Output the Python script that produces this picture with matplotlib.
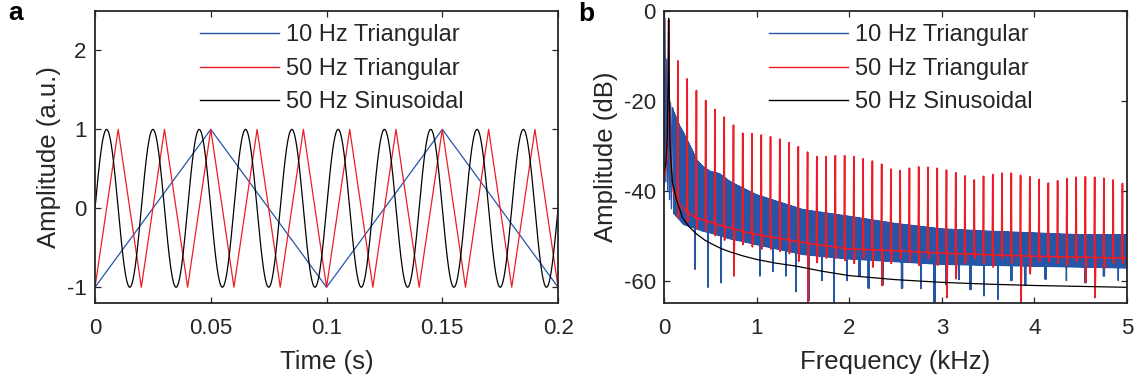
import numpy as np
import matplotlib
matplotlib.use("Agg")
import matplotlib.pyplot as plt

plt.rcParams['font.family'] = ['Liberation Sans', 'DejaVu Sans']
plt.rcParams['axes.unicode_minus'] = False

# ---- panel a: time domain (vertices) ----
tri10_t = [0, 0.05, 0.1, 0.15, 0.2]
tri10_v = [-1, 1, -1, 1, -1]
tri50_t = [0, 0.01, 0.02, 0.03, 0.04, 0.05, 0.06, 0.07, 0.08, 0.09, 0.10,
           0.11, 0.12, 0.13, 0.14, 0.15, 0.16, 0.17, 0.18, 0.19, 0.20]
tri50_v = [-1, 1, -1, 1, -1, 1, -1, 1, -1, 1, -1,
           1, -1, 1, -1, 1, -1, 1, -1, 1, -1]
sin_freq = 50      # Hz
sin_amp = 1.0

# ---- panel b: spectrum (kHz, dB) ----
# 50 Hz triangular: odd harmonics 150 ... 4950 Hz
red_harm_f = [0.15 + 0.1 * k for k in range(49)]
red_peak = [-11.1, -15.1, -17.7, -19.9, -21.9, -23.6, -25.4, -27.2, -27.3, -27.6,
            -28.0, -28.5, -29.3, -30.2, -31.4, -32.4, -32.4, -32.2, -32.2, -32.4,
            -32.9, -33.4, -34.1, -35.2, -35.5, -35.0, -34.7, -34.8, -35.0, -35.4,
            -36.0, -36.7, -37.6, -36.8, -36.4, -36.1, -36.1, -36.6, -36.9, -37.5,
            -38.3, -37.8, -37.3, -37.0, -36.9, -37.0, -37.2, -37.6, -38.4]
red_dip = [-46, -47, -48.5, -49, -50, -51, -59, -52, -52.5, -53,
           -53, -53.5, -54, -55.7, -66, -56, -55, -55, -55.5, -56.2,
           -55, -57, -61.1, -56.2, -55.1, -55.8, -56.6, -55.1, -56.6, -63.8,
           -59.6, -56.2, -55.1, -56.2, -57, -55.1, -56.2, -66, -58.5, -55.8,
           -55.8, -56.2, -56.6, -55.8, -60.4, -63.8, -57.3, -56.2, -56.2]
red_floor_f = [0.1, 0.15, 0.205, 0.35, 0.53, 0.71, 0.89, 1.07, 1.43, 1.79, 2.0, 2.33, 3.0, 4.0, 5.0]
red_floor = [-40, -42.8, -44.2, -46.1, -47.2, -48.3, -49.3, -50, -51.3, -52.4, -53, -53.2, -53.9, -54.6, -55.0]
red_low_f = [0, 0.03, 0.045, 0.05, 0.055, 0.07]
red_low = [-38, -33, -20, -2, -20, -33]

# 10 Hz triangular: dense band between envelopes
blue_low_f = [0, 0.01, 0.02, 0.03, 0.04, 0.05, 0.06, 0.07, 0.08, 0.09]
blue_low = [-39, -1.6, -38, -10.7, -40, -17.7, -42, -20.5, -44, -21.5]
blue_env_f = [0.1, 0.17, 0.21, 0.28, 0.35, 0.42, 0.5, 0.6, 0.71, 0.85, 1.0,
              1.5, 2.0, 2.5, 3.0, 3.5, 4.0, 4.5, 5.0]
blue_top = [-22, -25.6, -27, -29.9, -33, -34.6, -35.7, -36.2, -37.9, -39.4, -40.9,
            -44.2, -45.7, -47.3, -48.5, -49, -49.4, -49.8, -49.8]
blue_bot = [-45, -46.5, -47.5, -48, -48.5, -49, -49.4, -50, -50.7, -51.3, -52,
            -54.2, -55.2, -55.8, -56.4, -56.6, -56.8, -57, -57.2]
blue_deep_f = [0.20, 0.335, 0.475, 0.615, 0.75, 0.89, 1.03, 1.17, 1.31, 1.42, 1.56,
               1.70, 1.835, 1.97, 2.11, 2.21, 2.36, 2.57, 2.78, 2.92, 3.05, 3.18,
               3.31, 3.45, 3.60, 3.75, 3.90, 4.12, 4.35, 4.55, 4.75, 4.90]
blue_deep = [-53, -57.5, -61.5, -60.5, -60, -58, -59, -58, -59, -62.5, -64.5,
             -60, -65, -60, -59, -61.7, -61, -61.7, -61.8, -66, -61, -59.8,
             -62, -63.4, -64.2, -60, -61, -59.7, -60, -60.5, -59, -60]

# 50 Hz sinusoidal
black_f = [0, 0.02, 0.035, 0.045, 0.05, 0.055, 0.065, 0.09, 0.134, 0.2, 0.27, 0.35,
           0.44, 0.53, 0.62, 0.71, 0.85, 1.0, 1.2, 1.43, 1.7, 2.0, 2.5, 3.0, 3.5,
           4.0, 4.5, 5.0]
black_db = [-36, -34, -28, -15, -1.6, -15, -30, -38, -42, -46, -48, -49.6,
            -51, -52, -52.9, -53.6, -54.5, -55.3, -56.1, -56.8, -57.9, -58.9, -59.8,
            -60.4, -60.8, -61.1, -61.3, -61.5]

labels = ['10 Hz Triangular', '50 Hz Triangular', '50 Hz Sinusoidal']
c_blue = '#2556a8'
c_red = '#ee1c25'
c_black = '#000000'

# build the spectrum lines (blue: one peak/trough pair per 10 Hz bin)
bf, bv = list(blue_low_f), list(blue_low)
for k in range(10, 500):
    f = 0.01 * k
    bf.append(f)
    bv.append(float(np.interp(f, blue_env_f, blue_top)))
    g = f + 0.005
    d = float(np.interp(g, blue_env_f, blue_bot))
    near = [v for fd, v in zip(blue_deep_f, blue_deep) if abs(fd - g) < 0.005]
    if near:
        d = near[0]
    bf.append(g)
    bv.append(d)

rf, rv = list(red_low_f), list(red_low)
rf += [0.1]
rv += [red_floor[0]]
for f, pk, dp in zip(red_harm_f, red_peak, red_dip):
    fl = float(np.interp(f, red_floor_f, red_floor))
    rf += [f - 0.006, f, f + 0.004, f + 0.012]
    rv += [fl, pk, dp, fl]
rf += [5.0]
rv += [red_floor[-1]]


def style(ax):
    ax.tick_params(direction='in', top=True, right=True, length=4.5, width=0.9,
                   labelsize=16, colors='#262626')
    ax.tick_params(axis='x', pad=11)
    ax.tick_params(axis='y', pad=6)
    for s in ax.spines.values():
        s.set_linewidth(1.3)
        s.set_color('#262626')


fig = plt.figure(figsize=(11.38, 3.84), dpi=100)
ax1 = fig.add_axes([0.0835, 0.2109, 0.4069, 0.7604])
ax2 = fig.add_axes([0.5835, 0.2109, 0.4069, 0.7604])

t = np.linspace(0, 0.2, 2001)
ax1.plot(tri10_t, tri10_v, color=c_blue, lw=0.9, label=labels[0])
ax1.plot(tri50_t, tri50_v, color=c_red, lw=0.9, label=labels[1])
ax1.plot(t, sin_amp * np.sin(2 * np.pi * sin_freq * t), color=c_black, lw=0.9, label=labels[2])
ax1.set_xlim(0, 0.2)
ax1.set_ylim(-1.2, 2.5)
ax1.set_xticks([0, 0.05, 0.1, 0.15, 0.2])
ax1.set_xticklabels(['0', '0.05', '0.1', '0.15', '0.2'])
ax1.set_yticks([-1, 0, 1, 2])
ax1.set_yticklabels(['-1', '0', '1', '2'])
ax1.set_xlabel('Time (s)', fontsize=18.5, labelpad=8, color='#262626')
ax1.set_ylabel('Amplitude (a.u.)', fontsize=18.5, labelpad=4, color='#262626')
style(ax1)

ax2.plot(bf, bv, color=c_blue, lw=1.0, label=labels[0])
ax2.plot(rf, rv, color=c_red, lw=1.2, label=labels[1])
ax2.plot(black_f, black_db, color=c_black, lw=0.9, label=labels[2])
ax2.set_xlim(0, 5)
ax2.set_ylim(-65, 0)
ax2.set_xticks([0, 1, 2, 3, 4, 5])
ax2.set_yticks([-60, -40, -20, 0])
ax2.set_yticklabels(['-60', '-40', '-20', '0'])
ax2.set_xlabel('Frequency (kHz)', fontsize=18.5, labelpad=8, color='#262626')
ax2.set_ylabel('Amplitude (dB)', fontsize=18.5, labelpad=4, color='#262626')
style(ax2)

for ax in (ax1, ax2):
    leg = ax.legend(loc='upper left', bbox_to_anchor=(0.2268, 0.954), frameon=False,
                    fontsize=17, borderpad=0, borderaxespad=0, handlelength=3.35,
                    handletextpad=0.3, labelspacing=0.48)
    for line in leg.get_lines():
        line.set_linewidth(1.0)
    for txt in leg.get_texts():
        txt.set_color('#262626')

fig.text(0.007, 0.948, 'a', fontsize=19, fontweight='bold', va='baseline')
fig.text(0.508, 0.945, 'b', fontsize=19, fontweight='bold', va='baseline')

fig.savefig('out.png', dpi=100)
